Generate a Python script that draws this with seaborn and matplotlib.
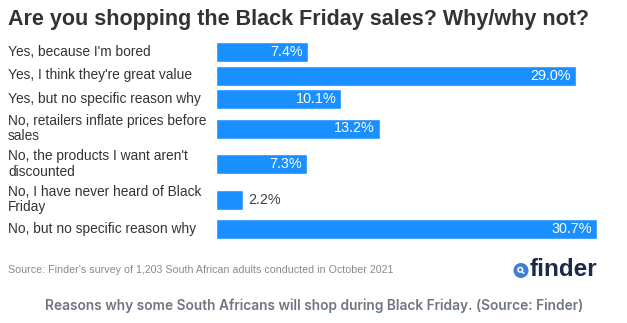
import matplotlib
matplotlib.use("Agg")
import matplotlib.pyplot as plt
import matplotlib.patches as mpatches
import seaborn as sns
import pandas as pd

categories = [
    "Yes, because I'm bored",
    "Yes, I think they're great value",
    "Yes, but no specific reason why",
    "No, retailers inflate prices before\nsales",
    "No, the products I want aren't\ndiscounted",
    "No, I have never heard of Black\nFriday",
    "No, but no specific reason why",
]
values = [7.4, 29.0, 10.1, 13.2, 7.3, 2.2, 30.7]
value_labels = ["7.4%", "29.0%", "10.1%", "13.2%", "7.3%", "2.2%", "30.7%"]

title = "Are you shopping the Black Friday sales? Why/why not?"
source = "Source: Finder's survey of 1,203 South African adults conducted in October 2021"
caption = "Reasons why some South Africans will shop during Black Friday. (Source: Finder)"

BAR = "#1a8fff"
TEXT = "#333333"
W, H = 627, 323

sns.set_theme(style="white")
plt.rcParams["font.family"] = ["Liberation Sans", "DejaVu Sans"]

# row centres in pixel units: taller rows for wrapped labels
single_h, double_h = 23.5, 35.5
heights = [double_h if "\n" in c else single_h for c in categories]
centres = [52.0]
for i in range(1, len(categories)):
    centres.append(centres[-1] + (heights[i - 1] + heights[i]) / 2)

df = pd.DataFrame({"pos": centres, "value": values, "label": categories})

fig = plt.figure(figsize=(W / 100, H / 100), dpi=100)
fig.patch.set_facecolor("white")

x0, x1 = 216, 612
px_per_unit = (597 - 216) / 30.7
ax = fig.add_axes([x0 / W, 0, (x1 - x0) / W, 1])
sns.barplot(data=df, x="value", y="pos", orient="h", native_scale=True,
            color=BAR, saturation=1, width=20 / 23.5, ax=ax)
ax.set_xlim(0, (x1 - x0) / px_per_unit)
ax.set_ylim(H, 0)
ax.axis("off")

for y, v, lab in zip(centres, values, value_labels):
    if v >= 5:
        ax.annotate(lab, (v, y), xytext=(-3.6, 0), textcoords="offset points",
                    ha="right", va="center", color="white", fontsize=10.4)
    else:
        ax.annotate(lab, (v, y), xytext=(3.6, 0), textcoords="offset points",
                    ha="left", va="center", color="#444444", fontsize=10.4)

for y, lab in zip(centres, categories):
    fig.text(8 / W, 1 - y / H, lab, ha="left", va="center", color=TEXT,
             fontsize=9.9, linespacing=1.15)

fig.text(8 / W, 1 - 19 / H, title, ha="left", va="center", color=TEXT,
         fontsize=15.5, fontweight="bold")
fig.text(8 / W, 1 - 270 / H, source, ha="left", va="center", color="#8a8a8a",
         fontsize=7.7)
fig.text(314 / W, 1 - 306 / H, caption, ha="center", va="center",
         color="#6e7681", fontsize=9.9, fontweight="semibold",
         family=["Inter", "DejaVu Sans"])

# finder wordmark with its blue badge
fig.text(530 / W, 1 - 269 / H, "finder", ha="left", va="center",
         color="#1b2a48", fontsize=17.5, fontweight="bold")
lax = fig.add_axes([0, 0, 1, 1], facecolor="none")
lax.set_xlim(0, W)
lax.set_ylim(H, 0)
lax.axis("off")
lax.add_patch(mpatches.Circle((521, 270.5), 6.8, color="#3d7fd6"))
lax.add_patch(mpatches.Circle((520.3, 269.8), 2.3, fill=False, ec="white", lw=1.1))
lax.plot([521.9, 523.8], [271.4, 273.3], color="white", lw=1.1)

fig.savefig("out.png", dpi=100, facecolor="white")
